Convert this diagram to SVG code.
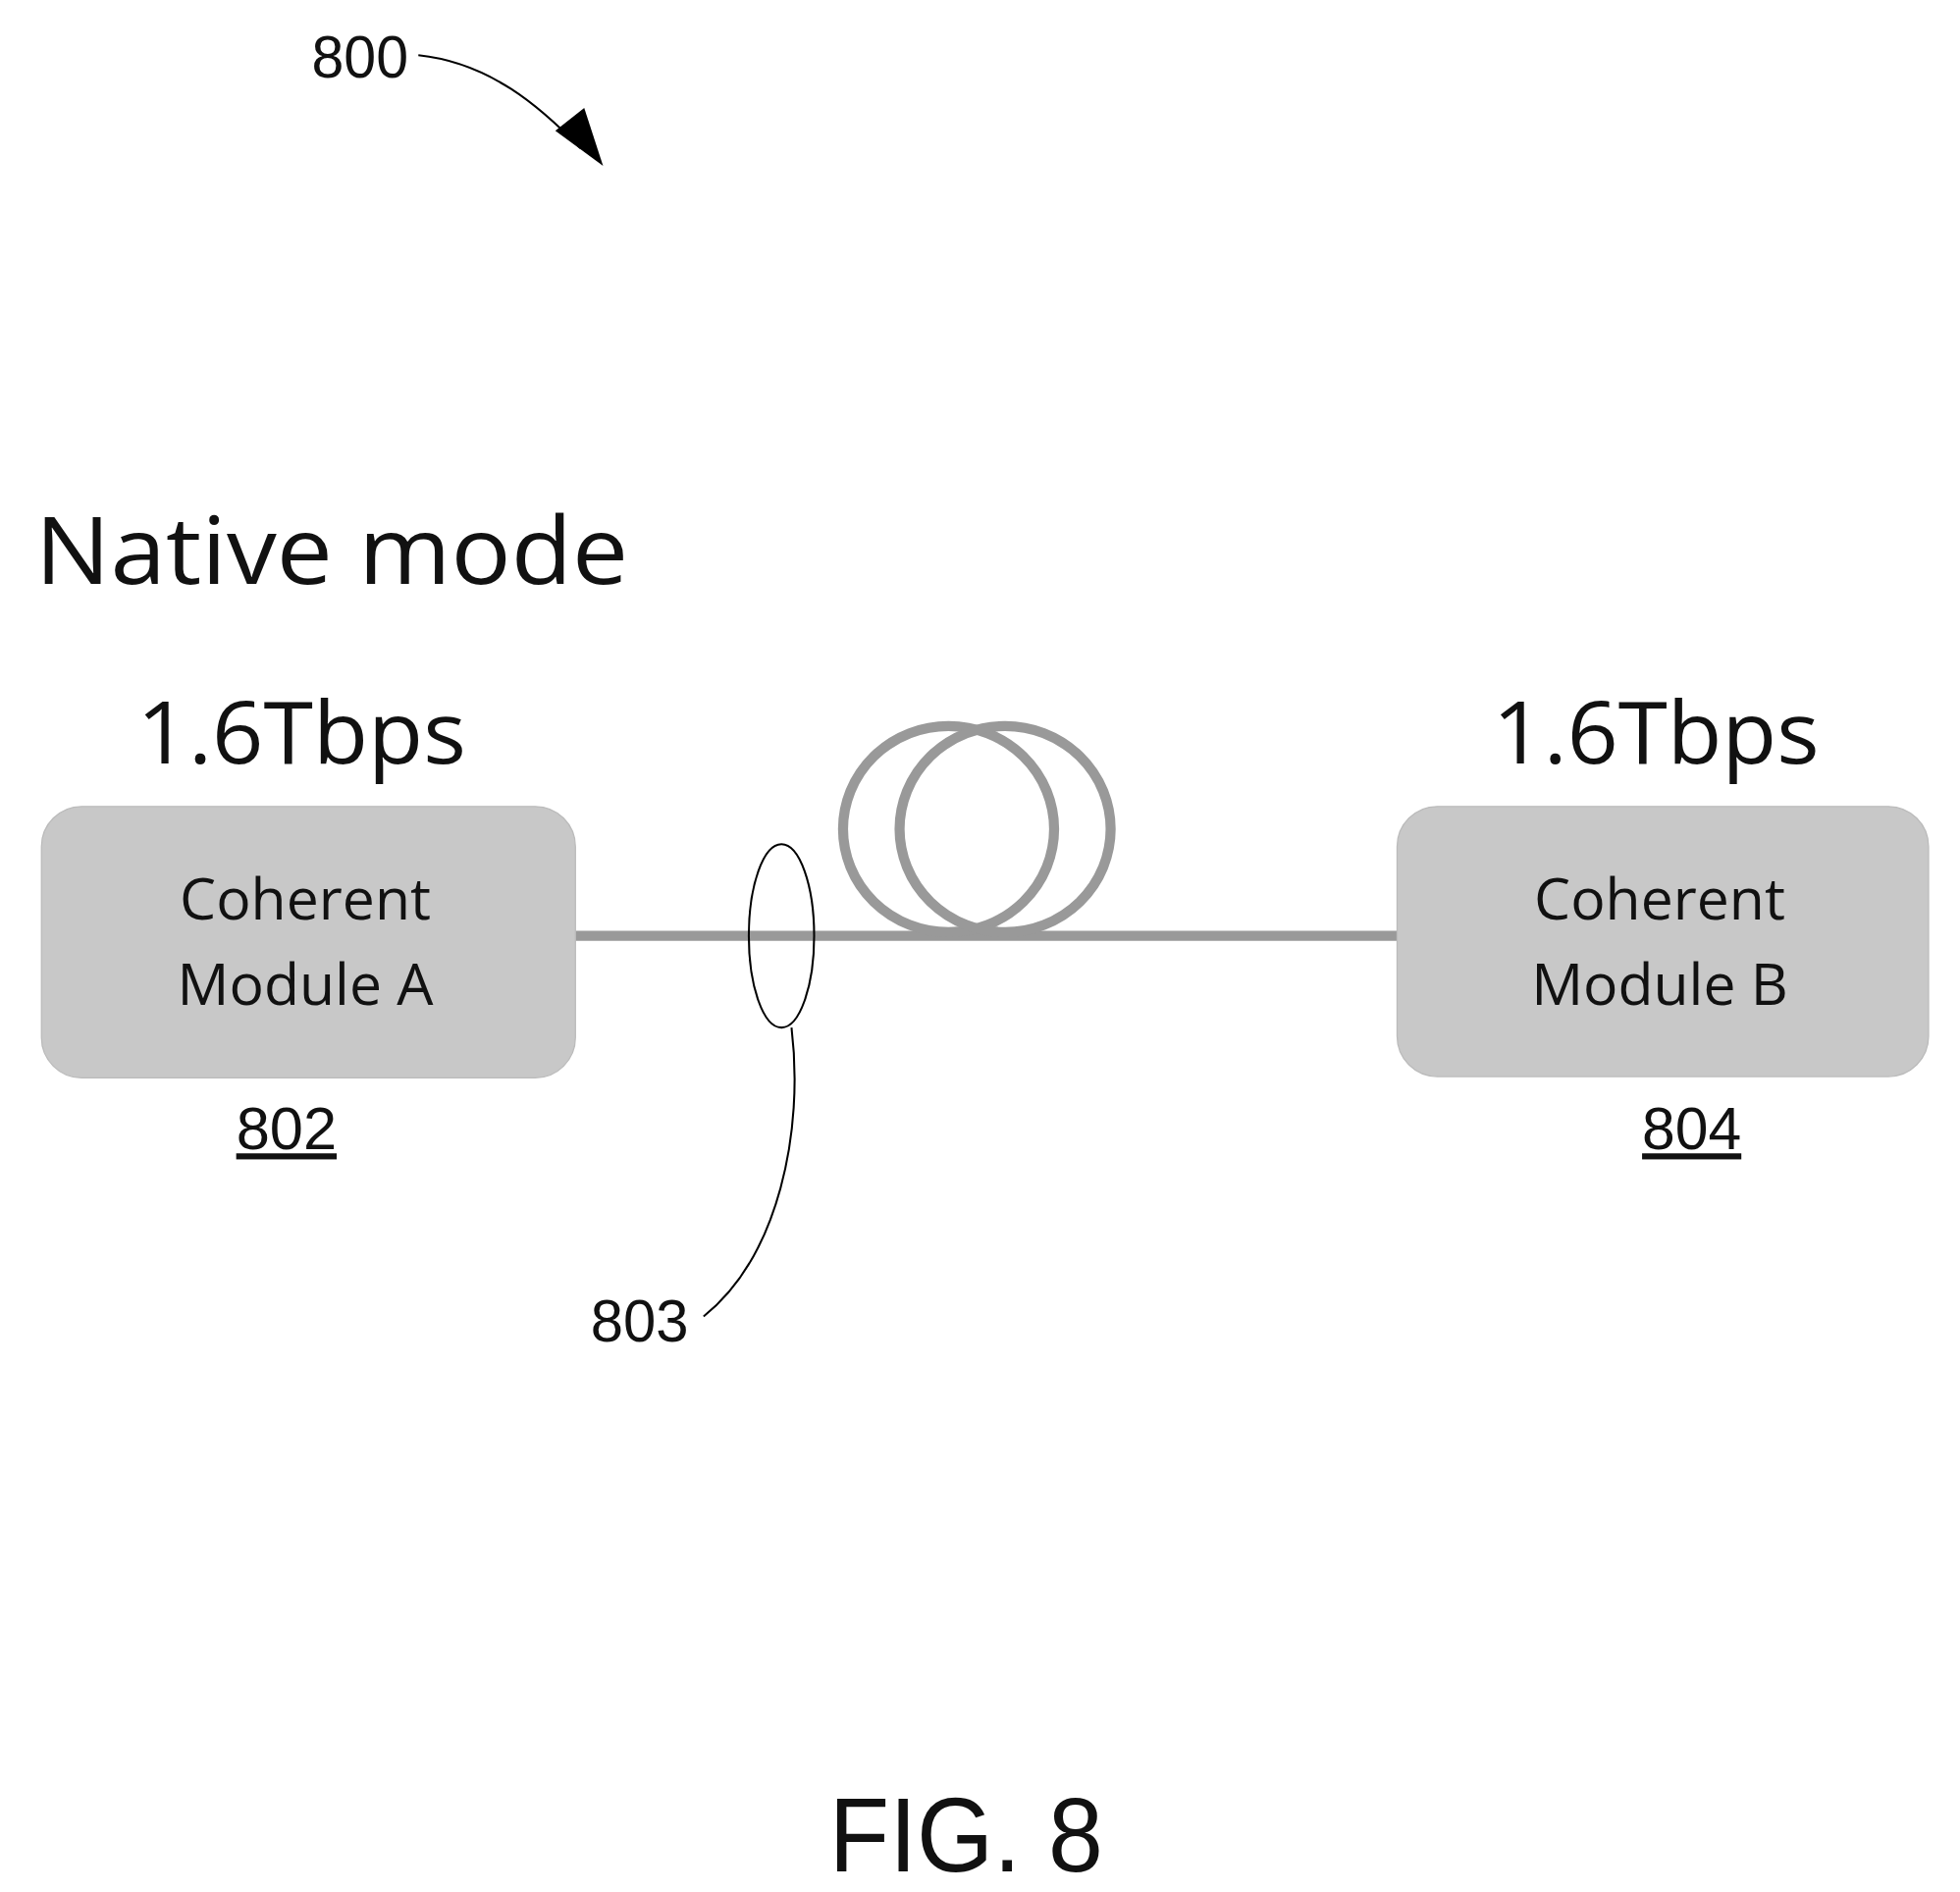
<svg xmlns="http://www.w3.org/2000/svg" width="1997" height="1928" viewBox="0 0 1997 1928">
<style>
.t{font-family:"Open Sans","Liberation Sans",sans-serif;fill:#111}
.n{font-family:"Liberation Sans",sans-serif;fill:#111}
.box{fill:#c8c8c8;stroke:#bbb;stroke-width:1}
.fiber{fill:none;stroke:#999;stroke-width:8}
.lead{fill:none;stroke:#000;stroke-width:1.6}
</style>
<defs><marker id="ah" markerWidth="10" markerHeight="8" refX="9" refY="4" orient="auto" markerUnits="userSpaceOnUse" viewBox="0 0 10 8"><path d="M0,0 L10,4 L0,8 Z" fill="#000"/></marker></defs>
<rect width="1997" height="1928" fill="#fff"/>
<g transform="scale(1.2801)">
<text class="n" x="248" y="62" font-size="48" textLength="77" lengthAdjust="spacingAndGlyphs">800</text>
<text class="t" x="28" y="465" font-size="74" textLength="472" lengthAdjust="spacingAndGlyphs">Native mode</text>
<g id="connectors">
<path class="lead" d="M333,44 C390,50 430,85 462,118"/>
<path d="M480,132 L442,104 L465,86 Z" fill="#000"/>
<line class="fiber" x1="458" y1="745" x2="1112" y2="745"/>
<ellipse class="fiber" cx="755" cy="660" rx="84" ry="82"/>
<ellipse class="fiber" cx="800" cy="660" rx="84" ry="82"/>
<path class="lead" d="M630,818 C640,900 620,1000 560,1048"/>
</g>
<g id="n802">
<text class="t" x="240" y="608" font-size="68" text-anchor="middle" textLength="262" lengthAdjust="spacingAndGlyphs">1.6Tbps</text>
<rect class="box" x="33" y="642" width="425" height="216" rx="32"/>
<text class="t" x="243" y="732" font-size="46" text-anchor="middle">Coherent</text>
<text class="t" x="243" y="800" font-size="46" text-anchor="middle">Module A</text>
<text class="n" x="188" y="915" font-size="48" textLength="80" lengthAdjust="spacingAndGlyphs" text-decoration="underline">802</text>
</g>
<g id="n804">
<text class="t" x="1318" y="608" font-size="68" text-anchor="middle" textLength="260" lengthAdjust="spacingAndGlyphs">1.6Tbps</text>
<rect class="box" x="1112" y="642" width="423" height="215" rx="32"/>
<text class="t" x="1321" y="732" font-size="46" text-anchor="middle">Coherent</text>
<text class="t" x="1321" y="800" font-size="46" text-anchor="middle">Module B</text>
<text class="n" x="1307" y="915" font-size="48" textLength="79" lengthAdjust="spacingAndGlyphs" text-decoration="underline">804</text>
</g>
<g id="n803">
<ellipse cx="622" cy="745" rx="26" ry="73" fill="none" stroke="#000" stroke-width="1.6"/>
<text class="n" x="470" y="1068" font-size="48" textLength="78" lengthAdjust="spacingAndGlyphs">803</text>
</g>
<text class="n" x="660" y="1490" font-size="84" textLength="218" lengthAdjust="spacingAndGlyphs">FIG. 8</text>
</g>
</svg>
